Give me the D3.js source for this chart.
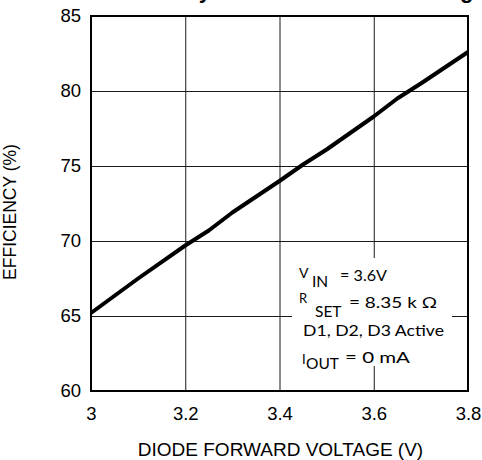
<!DOCTYPE html>
<html>
<head>
<meta charset="utf-8">
<script src="https://cdn.jsdelivr.net/npm/d3@7"></script>
<style>
  html, body { margin: 0; padding: 0; background: #fff; }
  svg { display: block; }
</style>
</head>
<body>
<svg id="chart" width="482" height="460"></svg>
<script>
// Efficiency vs. total diode forward voltage
const forwardVoltage = [3.0, 3.1, 3.2, 3.25, 3.3, 3.4, 3.45, 3.5, 3.6, 3.65, 3.7, 3.8];
const efficiency     = [65.2, 67.5, 69.7, 70.7, 71.9, 74.0, 75.1, 76.1, 78.3, 79.5, 80.5, 82.6];

const xTicks = [3, 3.2, 3.4, 3.6, 3.8];
const yTicks = [60, 65, 70, 75, 80, 85];

const titleText = "Efficiency vs Diode Forward Voltage";
const xTitle = "DIODE FORWARD VOLTAGE (V)";
const yTitle = "EFFICIENCY (%)";

const svg = d3.select("#chart");
const plotL = 91, plotR = 468, plotT = 16, plotB = 391;

const x = d3.scaleLinear().domain([3, 3.8]).range([plotL, plotR]);
const y = d3.scaleLinear().domain([60, 85]).range([plotB, plotT]);

const axisFont = "'Liberation Sans', Arial, sans-serif";

// title, mostly above the visible area
svg.append("text")
  .attr("x", 107).attr("y", -2)
  .attr("font-family", axisFont).attr("font-weight", "bold")
  .attr("font-size", 22)
  .text(titleText);

// grid lines
svg.append("g")
  .attr("transform", `translate(0,${plotB})`)
  .call(d3.axisBottom(x).tickValues(xTicks).tickSize(-(plotB - plotT)).tickFormat(""))
  .call(g => g.select(".domain").remove())
  .call(g => g.selectAll("line").attr("stroke", "#1a1a1a").attr("stroke-width", 1));

svg.append("g")
  .attr("transform", `translate(${plotL},0)`)
  .call(d3.axisLeft(y).tickValues(yTicks).tickSize(-(plotR - plotL)).tickFormat(""))
  .call(g => g.select(".domain").remove())
  .call(g => g.selectAll("line").attr("stroke", "#1a1a1a").attr("stroke-width", 1));

// tick labels
svg.append("g")
  .attr("transform", `translate(0,${plotB})`)
  .call(d3.axisBottom(x).tickValues(xTicks).tickSize(0).tickPadding(16).tickFormat(d3.format("")))
  .call(g => g.select(".domain").remove())
  .call(g => g.selectAll("text").attr("font-family", axisFont).attr("font-size", 18.5).attr("fill", "#000"));

svg.append("g")
  .attr("transform", `translate(${plotL},0)`)
  .call(d3.axisLeft(y).tickValues(yTicks).tickSize(0).tickPadding(10).tickFormat(d3.format("")))
  .call(g => g.select(".domain").remove())
  .call(g => g.selectAll("text").attr("font-family", axisFont).attr("font-size", 18.5).attr("fill", "#000"));

// plot frame
svg.append("rect")
  .attr("x", plotL).attr("y", plotT)
  .attr("width", plotR - plotL).attr("height", plotB - plotT)
  .attr("fill", "none").attr("stroke", "#000").attr("stroke-width", 2);

// axis titles
svg.append("text")
  .attr("x", 280.5).attr("y", 456)
  .attr("text-anchor", "middle")
  .attr("font-family", axisFont).attr("font-size", 19)
  .text(xTitle);

svg.append("text")
  .attr("transform", "translate(16,212) rotate(-90)")
  .attr("text-anchor", "middle")
  .attr("font-family", axisFont).attr("font-size", 17.5)
  .text(yTitle);

// efficiency curve
const line = d3.line()
  .x((d, i) => x(forwardVoltage[i]))
  .y(d => y(d));

svg.append("path")
  .datum(efficiency)
  .attr("fill", "none")
  .attr("stroke", "#000")
  .attr("stroke-width", 4)
  .attr("stroke-linejoin", "round")
  .attr("d", line);

// test-condition note
const note = svg.append("g")
  .attr("font-family", "Lato, 'Open Sans', sans-serif")
  .attr("fill", "#000");

note.append("rect")
  .attr("x", 292).attr("y", 258).attr("width", 160).attr("height", 108)
  .attr("fill", "#fff");

function piece(str, px, py, size, width) {
  const t = note.append("text").attr("x", px).attr("y", py).attr("font-size", size).text(str);
  if (width) t.attr("textLength", width).attr("lengthAdjust", "spacingAndGlyphs");
  return t;
}

piece("V", 299, 278, 14);
piece("IN", 312, 287, 15.5);
piece("= 3.6V", 340, 281, 15.5, 47);

piece("R", 299, 303, 13);
piece("SET", 315, 317, 15.5);
piece("= 8.35 k \u03A9", 349, 308, 15.5, 88);

piece("D1, D2, D3 Active", 303, 336, 15.5, 141);

piece("I", 302, 364, 13);
piece("OUT", 306, 369, 15.5);
piece("= 0 mA", 345, 363, 15.5, 65);
</script>
</body>
</html>
